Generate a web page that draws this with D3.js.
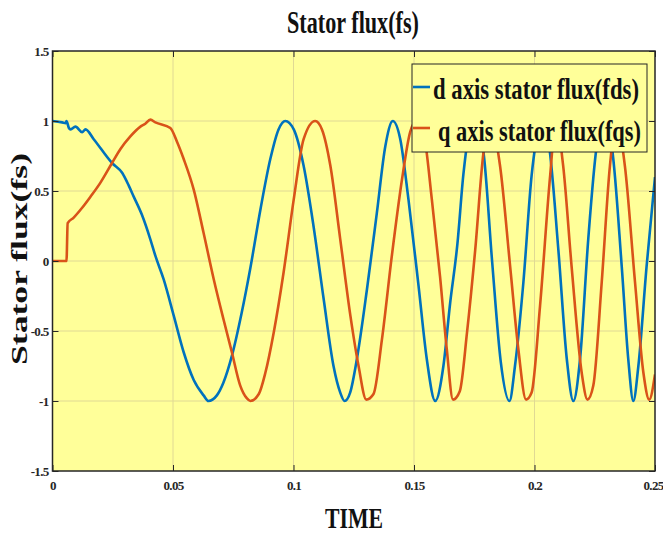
<!DOCTYPE html>
<html lang="en">
<head>
<meta charset="utf-8">
<title>Stator flux(fs)</title>
<script src="https://d3js.org/d3.v7.min.js"></script>
<style>
  body { margin: 0; background: #fff; }
  text { font-family: "Liberation Serif", "Times New Roman", serif; font-weight: bold; fill: #111; }
  .grid line { stroke: #e0d994; stroke-width: 1; }
  .axis text { font-size: 13px; fill: #262626; letter-spacing: -0.7px; }
  .axis line { stroke: #262626; }
  .axis path { display: none; }
</style>
</head>
<body>
<div id="chart"></div>
<script>
// time (s), flux value pairs
const fdsPoints = [
  [0, 1.0], [0.004, 0.99], [0.0055, 0.985], [0.0058, 1.0], [0.0068, 0.95], [0.0075, 0.94],
  [0.0095, 0.96], [0.0123, 0.92], [0.0137, 0.94], [0.0171, 0.87], [0.0247, 0.70], [0.0289, 0.63],
  [0.0316, 0.54], [0.0337, 0.46], [0.0371, 0.33], [0.0406, 0.155], [0.0427, 0.036], [0.0461, -0.13],
  [0.0503, -0.39], [0.0544, -0.65], [0.0586, -0.85], [0.0627, -0.96], [0.0647, -1.0], [0.0682, -0.96],
  [0.0709, -0.87], [0.0744, -0.68], [0.0785, -0.37], [0.0821, -0.05], [0.0863, 0.37], [0.0904, 0.73],
  [0.0938, 0.94], [0.0966, 1.0], [0.1001, 0.94], [0.1042, 0.68], [0.1083, 0.25], [0.1125, -0.27],
  [0.1166, -0.75], [0.1194, -0.94], [0.1212, -1.0], [0.1235, -0.94], [0.1263, -0.70], [0.1305, -0.2],
  [0.1346, 0.345], [0.1381, 0.82], [0.1412, 1.0], [0.1443, 0.87], [0.1477, 0.44], [0.1519, -0.18],
  [0.1553, -0.70], [0.1588, -1.0], [0.1622, -0.75], [0.1650, -0.30], [0.1680, 0.12], [0.1705, 0.62],
  [0.1730, 0.93], [0.1752, 1.0], [0.1788, 0.78], [0.1824, 0.0], [0.1860, -0.72], [0.1896, -1.0],
  [0.1919, -0.75], [0.1954, -0.15], [0.1988, 0.61], [0.2006, 0.85], [0.2032, 1.0], [0.2060, 0.83],
  [0.2099, 0.08], [0.2134, -0.70], [0.2161, -1.0], [0.2189, -0.70], [0.2223, 0.155], [0.2258, 0.82],
  [0.2288, 1.0], [0.2322, 0.80], [0.2362, -0.04], [0.2389, -0.70], [0.2410, -1.0], [0.2431, -0.75],
  [0.2465, -0.04], [0.2500, 0.60]
];

const fqsPoints = [
  [0, 0], [0.0058, 0], [0.0063, 0.27], [0.0088, 0.31], [0.0123, 0.38], [0.0158, 0.46], [0.0199, 0.56],
  [0.0247, 0.70], [0.0282, 0.80], [0.0323, 0.89], [0.0365, 0.96], [0.0385, 0.98], [0.0406, 1.01],
  [0.0427, 0.99], [0.0489, 0.95], [0.0517, 0.85], [0.0544, 0.73], [0.0586, 0.51], [0.0627, 0.20],
  [0.0669, -0.13], [0.0710, -0.42], [0.0744, -0.65], [0.0779, -0.89], [0.0806, -0.98], [0.0821, -1.0],
  [0.0856, -0.95], [0.0883, -0.80], [0.0918, -0.51], [0.0959, -0.08], [0.1001, 0.44], [0.1042, 0.87],
  [0.1090, 1.0], [0.1118, 0.94], [0.1153, 0.68], [0.1194, 0.155], [0.1236, -0.39], [0.1270, -0.75],
  [0.1302, -0.99], [0.1332, -0.95], [0.1367, -0.56], [0.1408, 0.036], [0.1450, 0.58], [0.1484, 0.92],
  [0.1510, 1.0], [0.1539, 0.92], [0.1574, 0.44], [0.1608, -0.11], [0.1636, -0.63], [0.1662, -0.99],
  [0.1690, -0.93], [0.1720, -0.51], [0.1754, 0.08], [0.1788, 0.77], [0.1815, 1.0], [0.1857, 0.68],
  [0.1899, -0.04], [0.1933, -0.63], [0.1965, -0.99], [0.1988, -0.94], [0.2023, -0.32], [0.2065, 0.61],
  [0.2088, 1.0], [0.2119, 0.68], [0.2154, -0.04], [0.2196, -0.80], [0.2220, -0.99], [0.2244, -0.89],
  [0.2279, -0.15], [0.2313, 0.68], [0.2340, 1.0], [0.2375, 0.68], [0.2417, -0.15], [0.2452, -0.80],
  [0.2476, -0.99], [0.2500, -0.81]
];

const xTicks = [0, 0.05, 0.1, 0.15, 0.2, 0.25];
const xTickLabels = ["0", "0.05", "0.1", "0.15", "0.2", "0.25"];
const yTicks = [-1.5, -1, -0.5, 0, 0.5, 1, 1.5];
const yTickLabels = ["-1.5", "-1", "-0.5", "0", "0.5", "1", "1.5"];
const seriesNames = ["d axis stator flux(fds)", "q axis stator flux(fqs)"];
const seriesColors = ["#0072bd", "#d95319"];

const W = 663, H = 535;
const pLeft = 52.5, pTop = 51, pRight = 655, pBottom = 471;

const svg = d3.select("#chart").append("svg")
  .attr("width", W)
  .attr("height", H);

const x = d3.scaleLinear().domain([0, 0.25]).range([pLeft, pRight]);
const y = d3.scaleLinear().domain([-1.5, 1.5]).range([pBottom, pTop]);

// squeeze a text horizontally to a given width (the MATLAB fonts are narrow)
function fitText(sel, tx, ty, width, rotate) {
  const natural = sel.node().getComputedTextLength();
  const k = width / natural;
  sel.attr("transform", "translate(" + tx + "," + ty + ")" + (rotate ? " rotate(-90)" : "") + " scale(" + k + ",1)");
}

// plot background
svg.append("rect")
  .attr("x", pLeft).attr("y", pTop)
  .attr("width", pRight - pLeft).attr("height", pBottom - pTop)
  .attr("fill", "#ffff99");

// grid
const grid = svg.append("g").attr("class", "grid");
grid.selectAll(".gx").data(xTicks.slice(1, -1)).enter().append("line")
  .attr("x1", d => x(d)).attr("x2", d => x(d))
  .attr("y1", pTop).attr("y2", pBottom);
grid.selectAll(".gy").data(yTicks.slice(1, -1)).enter().append("line")
  .attr("x1", pLeft).attr("x2", pRight)
  .attr("y1", d => y(d)).attr("y2", d => y(d));

// lines
svg.append("clipPath").attr("id", "clip")
  .append("rect")
  .attr("x", pLeft).attr("y", pTop)
  .attr("width", pRight - pLeft).attr("height", pBottom - pTop);

const line = d3.line()
  .x(d => x(d[0]))
  .y(d => y(d[1]))
  .curve(d3.curveMonotoneX);

[fdsPoints, fqsPoints].forEach((pts, i) => {
  svg.append("path")
    .datum(pts)
    .attr("clip-path", "url(#clip)")
    .attr("fill", "none")
    .attr("stroke", seriesColors[i])
    .attr("stroke-width", 2.6)
    .attr("stroke-linejoin", "round")
    .attr("d", line);
});

// axes, ticks inside on all four sides
const tickLen = 6;
const xAxisG = svg.append("g").attr("class", "axis")
  .attr("transform", "translate(0," + pBottom + ")")
  .call(d3.axisBottom(x).tickValues(xTicks).tickSize(-tickLen).tickPadding(10)
    .tickFormat((d, i) => xTickLabels[i]));
// last label sits at the window edge
xAxisG.selectAll(".tick text").filter(d => d === 0.25)
  .attr("text-anchor", "end").attr("dx", 8);

svg.append("g").attr("class", "axis")
  .attr("transform", "translate(0," + pTop + ")")
  .call(d3.axisTop(x).tickValues(xTicks).tickSize(-tickLen).tickFormat(""));
svg.append("g").attr("class", "axis")
  .attr("transform", "translate(" + pLeft + ",0)")
  .call(d3.axisLeft(y).tickValues(yTicks).tickSize(-tickLen).tickPadding(4)
    .tickFormat((d, i) => yTickLabels[i]));
svg.append("g").attr("class", "axis")
  .attr("transform", "translate(" + pRight + ",0)")
  .call(d3.axisRight(y).tickValues(yTicks).tickSize(-tickLen).tickFormat(""));

// box
svg.append("rect")
  .attr("x", pLeft).attr("y", pTop)
  .attr("width", pRight - pLeft).attr("height", pBottom - pTop)
  .attr("fill", "none")
  .attr("stroke", "#262626")
  .attr("stroke-width", 1.5);

// title and axis labels
const title = svg.append("text")
  .attr("text-anchor", "middle")
  .attr("font-size", 31)
  .text("Stator flux(fs)");
fitText(title, 353, 33, 132);

const xLabel = svg.append("text")
  .attr("text-anchor", "middle")
  .attr("font-size", 29)
  .attr("fill", "#262626")
  .text("TIME");
fitText(xLabel, 354, 528, 58);

const yLabel = svg.append("text")
  .attr("text-anchor", "middle")
  .attr("font-size", 24)
  .attr("fill", "#262626")
  .text("Stator flux(fs)");
fitText(yLabel, 27, 259, 212, true);

// legend
const lg = svg.append("g");
lg.append("rect")
  .attr("x", 412).attr("y", 64)
  .attr("width", 235).attr("height", 88)
  .attr("fill", "#ffff99")
  .attr("stroke", "#262626")
  .attr("stroke-width", 1);

const legendRows = [
  { y: 87, base: 99, tx: 433, len: 206 },
  { y: 128, base: 141, tx: 438, len: 203 }
];
legendRows.forEach((r, i) => {
  lg.append("line")
    .attr("x1", 413).attr("x2", 430)
    .attr("y1", r.y).attr("y2", r.y)
    .attr("stroke", seriesColors[i])
    .attr("stroke-width", 2.6);
  const t = lg.append("text")
    .attr("font-size", 30)
    .text(seriesNames[i]);
  fitText(t, r.tx, r.base, r.len);
});
</script>
</body>
</html>
